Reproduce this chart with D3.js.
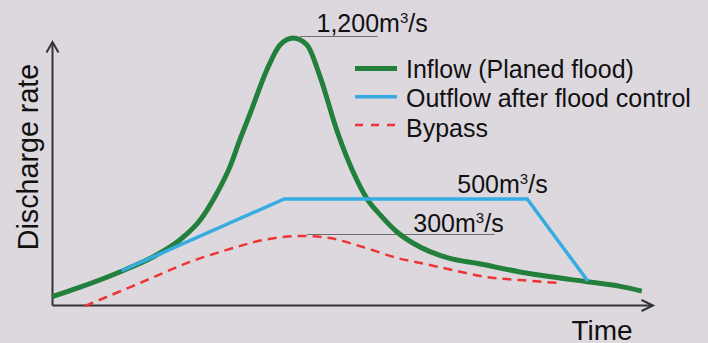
<!DOCTYPE html>
<html>
<head>
<meta charset="utf-8">
<script src="https://cdn.jsdelivr.net/npm/d3@7"></script>
<style>
  html, body { margin: 0; padding: 0; background: #dcd8de; }
  svg { display: block; font-family: "Liberation Sans", Arial, sans-serif; }
</style>
</head>
<body>
<svg id="chart" width="708" height="343"></svg>
<script>
// Flood hydrograph: inflow, controlled outflow and bypass discharge over time (schematic)

// Inflow (planned flood) hydrograph, m3/s
const inflowTime = [0, 4.7, 11.3, 16.8, 21.3, 24.7, 27.5, 29.7, 31.3, 33, 35.8, 38, 40.2, 42.5, 44.7, 47.45, 49.1, 50.8, 52.45, 54.7, 57.45, 60.2, 63, 66.3, 70.8, 78, 83.5, 89.2, 94.7, 98.3];
const inflowRate = [40, 81, 146, 210, 283, 386, 526, 643, 757, 870, 1061, 1170, 1200, 1170, 1030, 800, 684, 583, 503, 414, 323, 269, 233, 204, 183, 146, 124, 104, 84, 64];

// Outflow after flood control, m3/s
const outflowTime = [11.6, 38.7, 79.2, 89.3];
const outflowRate = [151, 500, 500, 107];

// Bypass discharge, m3/s
const bypassTime = [5.5, 14.7, 23, 30.8, 35.2, 40.8, 46.3, 51.8, 57.5, 62.2, 66.8, 72.5, 78, 84.3];
const bypassRate = [0, 99, 189, 253, 283, 300, 291, 253, 206, 180, 154, 124, 111, 99];

// Legend entries and annotated discharge values
const seriesNames = ["Inflow (Planed flood)", "Outflow after flood control", "Bypass"];
const annotatedRates = [1200, 500, 300];
const axisTitles = { x: "Time", y: "Discharge rate" };

const colors = { inflow: "#23803c", outflow: "#36ace2", bypass: "#ee3535" };

const svg = d3.select("#chart");

// Schematic scales: time runs along the arrowed axis, discharge is piecewise linear
const x = d3.scaleLinear().domain([0, 100]).range([52, 652]);
const y = d3.scaleLinear().domain([0, 300, 500, 1200]).range([306, 236, 199, 38]);

// Axis frame (no ticks), with arrowheads
const xFrame = d3.scaleLinear().range([52, 652]);
const yFrame = d3.scaleLinear().range([305, 42]);
svg.append("g")
  .attr("transform", "translate(0,305)")
  .call(d3.axisBottom(xFrame).tickValues([]).tickSizeOuter(0))
  .call(g => g.select(".domain").attr("stroke", "#333").attr("stroke-width", 2));
svg.append("g")
  .attr("transform", "translate(52,0)")
  .call(d3.axisLeft(yFrame).tickValues([]).tickSizeOuter(0))
  .call(g => g.select(".domain").attr("stroke", "#333").attr("stroke-width", 2));

const arrow = svg.append("g").attr("fill", "none").attr("stroke", "#333").attr("stroke-width", 2);
const xEnd = xFrame.range()[1] + 0.5;
const yEnd = yFrame.range()[1];
arrow.append("path").attr("d", `M${xEnd - 11},300 L${xEnd + 0.5},305.5 L${xEnd - 11},311`);
arrow.append("path").attr("d", `M46.5,${yEnd + 10.5} L52.5,${yEnd} L58.5,${yEnd + 10.5}`);

// Axis titles
svg.append("text")
  .attr("x", 571.5).attr("y", 340)
  .attr("font-size", 28).attr("fill", "#111")
  .text(axisTitles.x);
svg.append("text")
  .attr("transform", "translate(38,157) rotate(-90)")
  .attr("text-anchor", "middle")
  .attr("font-size", 28.7).attr("fill", "#111")
  .text(axisTitles.y);

const zip = (ts, vs) => ts.map((t, i) => [t, vs[i]]);

// Leader lines for annotated values
const leaders = svg.append("g").attr("stroke", "#6e6e6e").attr("stroke-width", 1.2);
leaders.append("line")
  .attr("x1", x(41.3)).attr("x2", x(54.3))
  .attr("y1", y(annotatedRates[0]) - 1.5).attr("y2", y(annotatedRates[0]) - 1.5);
leaders.append("line")
  .attr("x1", x(42.5)).attr("x2", x(73.8))
  .attr("y1", y(annotatedRates[2]) - 1.5).attr("y2", y(annotatedRates[2]) - 1.5);

// Bypass (dashed)
svg.append("path")
  .datum(zip(bypassTime, bypassRate))
  .attr("fill", "none")
  .attr("stroke", colors.bypass)
  .attr("stroke-width", 2.5)
  .attr("stroke-dasharray", "9,6")
  .attr("d", d3.line().x(d => x(d[0])).y(d => y(d[1])).curve(d3.curveCatmullRom.alpha(0.5)));

// Inflow hydrograph
svg.append("path")
  .datum(zip(inflowTime, inflowRate))
  .attr("fill", "none")
  .attr("stroke", colors.inflow)
  .attr("stroke-width", 5)
  .attr("stroke-linejoin", "round")
  .attr("d", d3.line().x(d => x(d[0])).y(d => y(d[1])).curve(d3.curveMonotoneX));

// Controlled outflow
svg.append("path")
  .datum(zip(outflowTime, outflowRate))
  .attr("fill", "none")
  .attr("stroke", colors.outflow)
  .attr("stroke-width", 3.5)
  .attr("d", d3.line().x(d => x(d[0])).y(d => y(d[1])));

// Value annotations: "<value>m³/s"
const fmt = d3.format(",");
const labelPos = [
  { x: 316.5, dy: -5.7 },
  { x: 457.3, dy: -6.3 },
  { x: 413.3, dy: -4.3 }
];
annotatedRates.forEach((v, i) => {
  const t = svg.append("text")
    .attr("x", labelPos[i].x)
    .attr("y", y(v) + labelPos[i].dy)
    .attr("font-size", 25).attr("fill", "#111");
  t.append("tspan").text(fmt(v) + "m");
  t.append("tspan").attr("font-size", 15).attr("dy", -9).text("3");
  t.append("tspan").attr("dy", 9).text("/s");
});

// Legend
const legendStyles = [
  { color: colors.inflow, width: 5, dash: null },
  { color: colors.outflow, width: 3.5, dash: null },
  { color: colors.bypass, width: 2.5, dash: "8,8" }
];
const legend = svg.append("g");
seriesNames.forEach((name, i) => {
  const rowY = 68.5 + i * 28.3;
  legend.append("line")
    .attr("x1", 355).attr("x2", 397)
    .attr("y1", rowY).attr("y2", rowY)
    .attr("stroke", legendStyles[i].color)
    .attr("stroke-width", legendStyles[i].width)
    .attr("stroke-dasharray", legendStyles[i].dash);
  legend.append("text")
    .attr("x", 406).attr("y", 77.5 + i * 29.5)
    .attr("font-size", 25).attr("fill", "#111")
    .text(name);
});
</script>
</body>
</html>
